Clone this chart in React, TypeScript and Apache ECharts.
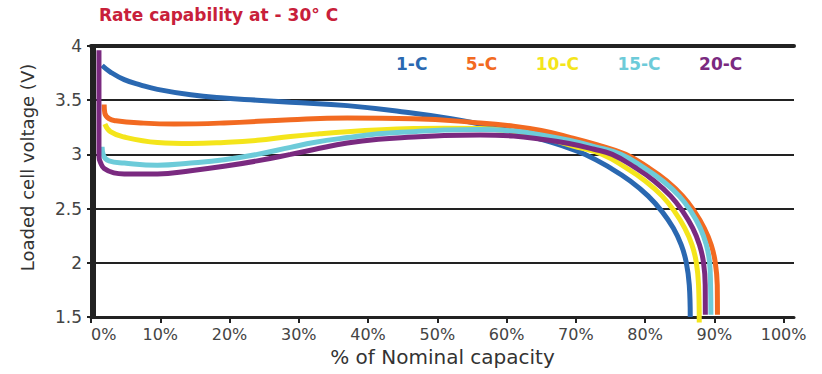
import React, { useEffect, useRef } from "react";
import * as echarts from "echarts";

const chartTitle = "Rate capability at - 30° C";
const xAxisName = "% of Nominal capacity";
const yAxisName = "Loaded cell voltage (V)";
const seriesNames = ["1-C", "5-C", "10-C", "15-C", "20-C"];
const seriesColors = ["#2a68b1", "#f26a21", "#f4e51b", "#6dcbd9", "#7a2a80"];
const xTicks = [0, 10, 20, 30, 40, 50, 60, 70, 80, 90, 100];

const curve1C: [number, number][] = [
  [1.6, 3.82], [2.8, 3.76], [4.8, 3.69], [7.2, 3.64], [9.6, 3.6], [14.4, 3.55],
  [19.2, 3.52], [24, 3.5], [28.8, 3.48], [37, 3.45], [46.6, 3.38], [52, 3.33],
  [56.2, 3.28], [60.5, 3.22], [64.4, 3.15], [68, 3.08], [71.36, 3.0], [74.97, 2.875],
  [77.86, 2.755], [80.46, 2.615], [82.48, 2.47], [84.07, 2.32], [85.22, 2.165],
  [85.94, 2.005], [86.38, 1.795], [86.52, 1.5],
];
const curve5C: [number, number][] = [
  [1.9, 3.46], [2.0, 3.38], [2.6, 3.33], [3.6, 3.31], [7.2, 3.29], [12, 3.28],
  [19.2, 3.29], [28.8, 3.32], [37, 3.335], [46.6, 3.33], [56.2, 3.29], [61, 3.26],
  [65, 3.22], [69, 3.16], [73, 3.09], [77.2, 3.0], [80.53, 2.875], [83.13, 2.755],
  [85.44, 2.615], [87.17, 2.47], [88.54, 2.32], [89.55, 2.165], [90.13, 2.005],
  [90.42, 1.795], [90.45, 1.52],
];
const curve10C: [number, number][] = [
  [2.0, 3.28], [2.8, 3.21], [4.8, 3.16], [9.6, 3.11], [14.4, 3.1], [19.2, 3.11],
  [24, 3.13], [28.8, 3.165], [33, 3.19], [37, 3.21], [42, 3.228], [46.6, 3.238],
  [51, 3.242], [56.2, 3.24], [61, 3.21], [65, 3.16], [69.5, 3.08], [73.81, 3.0],
  [77.27, 2.875], [80.02, 2.755], [82.48, 2.615], [84.29, 2.47], [85.73, 2.32],
  [86.77, 2.165], [87.39, 2.005], [87.72, 1.795], [87.82, 1.45],
];
const curve15C: [number, number][] = [
  [1.6, 3.07], [1.8, 2.99], [2.6, 2.94], [4.8, 2.92], [9.6, 2.9], [14.4, 2.92],
  [19.2, 2.95], [24, 3.0], [28.8, 3.065], [32.2, 3.11], [37, 3.155], [41.5, 3.19],
  [46.6, 3.21], [51, 3.225], [56.2, 3.23], [61, 3.215], [65, 3.18], [69, 3.13],
  [72.8, 3.07], [76.5, 3.0], [79.88, 2.875], [82.55, 2.755], [84.94, 2.615],
  [86.67, 2.47], [87.97, 2.32], [88.84, 2.165], [89.31, 2.005], [89.45, 1.795],
  [89.5, 1.52],
];
const curve20C: [number, number][] = [
  [1.15, 3.96], [1.15, 3.3], [1.15, 2.98], [1.4, 2.92], [1.9, 2.87], [3.3, 2.83],
  [4.8, 2.82], [9.6, 2.82], [14.4, 2.85], [19.2, 2.89], [24, 2.94], [28.8, 3.0],
  [32.2, 3.045], [37, 3.105], [41.5, 3.14], [46.6, 3.16], [51, 3.175], [56.2, 3.18],
  [61, 3.17], [65, 3.14], [69, 3.1], [72.5, 3.05], [75.25, 3.0], [78.65, 2.875],
  [81.32, 2.755], [83.7, 2.615], [85.48, 2.47], [86.88, 2.32], [87.86, 2.165],
  [88.43, 2.005], [88.68, 1.795], [88.7, 1.52],
];
const curves = [curve1C, curve5C, curve10C, curve15C, curve20C];

const FONT = "DejaVu Sans";
const DARK = "#222";

export default function App() {
  const ref = useRef<HTMLDivElement>(null);
  useEffect(() => {
    if (!ref.current) return;
    const chart = echarts.init(ref.current, undefined, { renderer: "svg" });
    chart.setOption({
      animation: false,
      backgroundColor: "#ffffff",
      title: {
        text: chartTitle,
        left: 99,
        top: 6,
        padding: 0,
        textStyle: { fontFamily: FONT, fontSize: 17, fontWeight: "bold", color: "#c8203a" },
      },
      legend: {
        left: 391,
        top: 55,
        padding: 0,
        itemGap: 33.5,
        itemWidth: 0,
        itemHeight: 0,
        icon: "rect",
        selectedMode: false,
        data: seriesNames.map((n, i) => ({
          name: n,
          textStyle: { color: seriesColors[i], fontFamily: FONT, fontSize: 17, fontWeight: "bold" },
        })),
      },
      grid: { left: 91, top: 46, width: 703, height: 271, containLabel: false },
      xAxis: [
        {
          type: "value",
          min: 0,
          max: 101.5,
          interval: 10,
          name: xAxisName,
          nameLocation: "middle",
          nameGap: 29,
          nameTextStyle: { fontFamily: FONT, fontSize: 20, color: "#333" },
          axisLine: { lineStyle: { color: DARK, width: 3 } },
          axisTick: { show: true, length: 6, lineStyle: { color: DARK, width: 2 }, customValues: xTicks },
          axisLabel: {
            customValues: xTicks,
            margin: 9,
            fontFamily: FONT,
            fontSize: 16,
            color: "#444",
            alignMinLabel: "left",
            formatter: (v: number) => (v > 100 ? "" : v + "%"),
          },
          splitLine: { show: false },
        },
        {
          type: "value",
          position: "top",
          min: 0,
          max: 101.5,
          axisLine: { show: true, lineStyle: { color: DARK, width: 4 } },
          axisTick: { show: false },
          axisLabel: { show: false },
          splitLine: { show: false },
        },
      ],
      yAxis: [
        {
          type: "value",
          min: 1.5,
          max: 4,
          interval: 0.5,
          offset: -3,
          name: yAxisName,
          nameLocation: "middle",
          nameGap: 58,
          nameTextStyle: { fontFamily: FONT, fontSize: 18, color: "#333", padding: [0, 0, 0, 28] },
          axisLine: { show: true, lineStyle: { color: DARK, width: 3 } },
          axisTick: { show: true, length: 7, lineStyle: { color: DARK, width: 2 } },
          axisLabel: { margin: 12, fontFamily: FONT, fontSize: 17, color: "#444" },
          splitLine: { show: true, lineStyle: { color: DARK, width: 2 } },
        },
        {
          type: "value",
          position: "right",
          min: 1.5,
          max: 4,
          axisLine: { show: true, lineStyle: { color: DARK, width: 3 } },
          axisTick: { show: false },
          axisLabel: { show: false },
          splitLine: { show: false },
        },
      ],
      series: curves.map((c, i) => ({
        name: seriesNames[i],
        type: "line",
        data: c,
        xAxisIndex: 0,
        yAxisIndex: 0,
        smooth: 0.45,
        symbol: "none",
        clip: false,
        lineStyle: { color: seriesColors[i], width: 5 },
        itemStyle: { color: seriesColors[i] },
      })),
    });
    return () => chart.dispose();
  }, []);
  return <div ref={ref} style={{ width: 822, height: 374, position: "absolute", left: 0, top: 0 }} />;
}
